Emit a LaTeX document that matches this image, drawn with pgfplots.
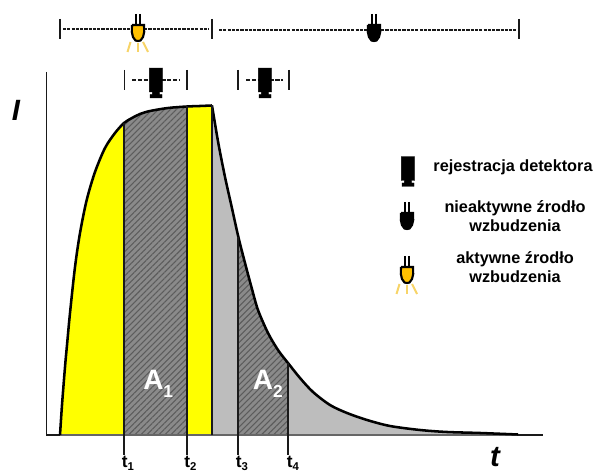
\documentclass[border=0pt]{standalone}
\usepackage{fontspec}
\setmainfont{Liberation Sans}
\usepackage{pgfplots}
\usepackage{pgfplotstable}
\pgfplotsset{compat=1.18}
\usetikzlibrary{patterns.meta}
\definecolor{hatchbg}{HTML}{8A8A8A}
\definecolor{hatchln}{HTML}{5C5C5C}
\definecolor{lgrey}{HTML}{BDBDBD}
\definecolor{gold}{HTML}{FFC000}
\definecolor{ray}{HTML}{F7D468}
\definecolor{lin}{HTML}{1A1A1A}
\definecolor{yel}{HTML}{FFFF00}
% bulb: x offset from centre, y offset from the top of the wires
\pgfplotstableread{
x y
-6 11
6 11
6.2 18
5 23
2.5 26.5
0 27
-2.5 26.5
-5 23
-6.2 18
-6 11
}\bulbbody
\pgfplotstableread{
x y
-6.7 0
-6.6 20
-6.6 24
-3.7 24
-3.7 26.5
-6 26.5
-6 30
6 30
6 26.5
3.7 26.5
3.7 24
6.7 24
6.7 0
}\camerabody
\pgfplotstableread{
x y
0 0
0 11
}\wire
\pgfplotstableread{
x y
-7.5 28
-10.5 38
}\rayA
\pgfplotstableread{
x y
0 29
0 38
}\rayB
\pgfplotstableread{
x y
5 28
10 38
}\rayC
\newcommand{\bulb}[3]{% x, ytop, fill
  \addplot[fill=#3,draw=black,line width=1.6pt] table[x expr=\thisrow{x}+#1,y expr=\thisrow{y}+#2] {\bulbbody};
  \addplot[black,line width=1.3pt] table[x expr=\thisrow{x}+#1-2.3,y expr=\thisrow{y}+#2] {\wire};
  \addplot[black,line width=1.3pt] table[x expr=\thisrow{x}+#1+2.3,y expr=\thisrow{y}+#2] {\wire};
}
\newcommand{\rays}[2]{% x, ytop
  \addplot[ray,line width=1.5pt] table[x expr=\thisrow{x}+#1,y expr=\thisrow{y}+#2] {\rayA};
  \addplot[ray,line width=1.5pt] table[x expr=\thisrow{x}+#1,y expr=\thisrow{y}+#2] {\rayB};
  \addplot[ray,line width=1.5pt] table[x expr=\thisrow{x}+#1,y expr=\thisrow{y}+#2] {\rayC};
}
\newcommand{\camera}[2]{% x, ytop
  \addplot[fill=black,draw=black,line width=0.3pt] table[x expr=\thisrow{x}+#1,y expr=\thisrow{y}+#2] {\camerabody};
}
\newcommand{\bigsub}[2]{#1\raisebox{-0.26em}{\fontsize{13}{13}\selectfont #2}}
\newcommand{\smallsub}[2]{#1\raisebox{-0.15em}{\fontsize{8.5}{8.5}\selectfont #2}}
\tikzset{hatch/.style={pattern={Lines[angle=45,distance=3.2pt,line width=0.8pt]},pattern color=hatchln,draw=none}}
\begin{document}
\begin{tikzpicture}
\path[use as bounding box] (0,0) rectangle (447.75pt,354.75pt);
\begin{axis}[
  at={(0,0)},anchor=south west,
  scale only axis,width=447.75pt,height=354.75pt,
  xmin=0,xmax=597,ymin=0,ymax=473,y dir=reverse,
  hide axis,clip=false,
]
% yellow areas
\addplot[fill=yel,draw=none] coordinates {(60,435)(62,405)(65,367)(67,345)(70,313)(75,267)(80,233)(86.7,200)(95,172)(105,148)(115,133)(124,123)(124,435)};
\addplot[fill=yel,draw=none] coordinates {(187,106.5)(200,106)(212,105.5)(212,435)(187,435)};
% light grey areas
\addplot[fill=lgrey,draw=none] coordinates {(212,105.5)(218.3,143)(225,177)(231.7,207)(238.3,236.7)(238.3,435)(212,435)};
\addplot[fill=lgrey,draw=none] coordinates {(288,363)(300,378)(313,392)(330,405)(347,413)(367,420)(390,426)(420,430)(447,432)(480,433)(518,434)(518,435)(288,435)};
% hatched areas
\addplot[fill=hatchbg,draw=none] coordinates {(124,123)(132,118)(140,114)(150,111)(168,108)(187,106.5)(187,435)(124,435)};
\addplot[hatch] coordinates {(124,123)(132,118)(140,114)(150,111)(168,108)(187,106.5)(187,435)(124,435)};
\addplot[fill=hatchbg,draw=none] coordinates {(238.3,236.7)(245,263)(251.7,288)(258,310)(268,333)(278,350)(288,363)(288,435)(238.3,435)};
\addplot[hatch] coordinates {(238.3,236.7)(245,263)(251.7,288)(258,310)(268,333)(278,350)(288,363)(288,435)(238.3,435)};
% axes
\addplot[lin,line width=1.3pt] coordinates {(46.5,72)(46.5,435)(60,435)};
\addplot[black!60,line width=1pt] coordinates {(60,435)(518,435)};
\addplot[lin,line width=1.1pt] coordinates {(518,435)(543,435)};
% curve
\addplot[black,line width=1.9pt,smooth,tension=0.5] coordinates {(60,435)(62,405)(65,367)(67,345)(70,313)(75,267)(80,233)(86.7,200)(95,172)(105,148)(115,133)(124,123)(132,118)(140,114)(150,111)(168,108)(187,106.5)(200,106)(212,105.5)};
\addplot[black,line width=1.9pt,smooth,tension=0.5] coordinates {(212,105.5)(218.3,143)(225,177)(231.7,207)(238.3,236.7)(245,263)(251.7,288)(258,310)(268,333)(278,350)(288,363)(300,378)(313,392)(330,405)(347,413)(367,420)(390,426)(420,430)(447,432)(480,433)(518,434.5)};
% time lines
\addplot[lin,line width=1.4pt] coordinates {(124,123)(124,455)};
\addplot[lin,line width=1.4pt] coordinates {(187,106.5)(187,455)};
\addplot[lin,line width=1.4pt] coordinates {(212,105.5)(212,435)};
\addplot[lin,line width=1.4pt] coordinates {(238.3,236.7)(238.3,455)};
\addplot[lin,line width=1.4pt] coordinates {(288,363)(288,455)};
% top intervals
\addplot[lin,line width=1.4pt] coordinates {(60,19)(60,39)};
\addplot[lin,line width=1.4pt] coordinates {(212,19)(212,39)};
\addplot[lin,line width=1.4pt] coordinates {(519,19)(519,39)};
\addplot[lin,line width=0.85pt,dash pattern=on 2.4pt off 0.8pt] coordinates {(63,29)(209,29)};
\addplot[lin,line width=0.85pt,dash pattern=on 2.4pt off 0.8pt] coordinates {(219,30)(516,30)};
\addplot[lin,line width=1.4pt] coordinates {(124.5,70)(124.5,90)};
\addplot[lin,line width=1.4pt] coordinates {(186.7,70)(186.7,90)};
\addplot[lin,line width=1.4pt] coordinates {(238.3,70)(238.3,90)};
\addplot[lin,line width=1.4pt] coordinates {(288.7,70)(288.7,90)};
\addplot[lin,line width=0.85pt,dash pattern=on 3.2pt off 1.2pt] coordinates {(132,80)(180,80)};
\addplot[lin,line width=0.85pt,dash pattern=on 3.2pt off 1.2pt] coordinates {(246,80)(283,80)};
% icons
\rays{138}{14}
\bulb{138}{14}{gold}
\bulb{374}{14}{black}
\camera{156}{68}
\camera{265}{68}
\camera{408}{156.5}
\bulb{407}{202}{black}
\rays{407}{256}
\bulb{407}{256}{gold}
% text
\node[font=\bfseries\itshape\fontsize{22}{22}\selectfont] at (axis cs:16,110) {I};
\node[font=\bfseries\itshape\fontsize{22}{22}\selectfont] at (axis cs:495,457) {t};
\node[font=\bfseries\fontsize{12.2}{14.25}\selectfont] at (axis cs:513,167) {rejestracja detektora};
\node[font=\bfseries\fontsize{12.2}{14.25}\selectfont,align=center] at (axis cs:515,216.5) {nieaktywne źrodło\\wzbudzenia};
\node[font=\bfseries\fontsize{12.2}{14.25}\selectfont,align=center] at (axis cs:515,267.5) {aktywne źrodło\\wzbudzenia};
\node[font=\bfseries\fontsize{21}{21}\selectfont,text=white,anchor=base west,inner sep=0pt] at (axis cs:143,390) {\bigsub{A}{1}};
\node[font=\bfseries\fontsize{21}{21}\selectfont,text=white,anchor=base west,inner sep=0pt] at (axis cs:252.7,390) {\bigsub{A}{2}};
\node[font=\bfseries\fontsize{13}{13}\selectfont,anchor=base west,inner sep=0pt] at (axis cs:121.7,468) {\smallsub{t}{1}};
\node[font=\bfseries\fontsize{13}{13}\selectfont,anchor=base west,inner sep=0pt] at (axis cs:184,468) {\smallsub{t}{2}};
\node[font=\bfseries\fontsize{13}{13}\selectfont,anchor=base west,inner sep=0pt] at (axis cs:235.7,468) {\smallsub{t}{3}};
\node[font=\bfseries\fontsize{13}{13}\selectfont,anchor=base west,inner sep=0pt] at (axis cs:286.7,468) {\smallsub{t}{4}};
\end{axis}
\end{tikzpicture}
\end{document}
